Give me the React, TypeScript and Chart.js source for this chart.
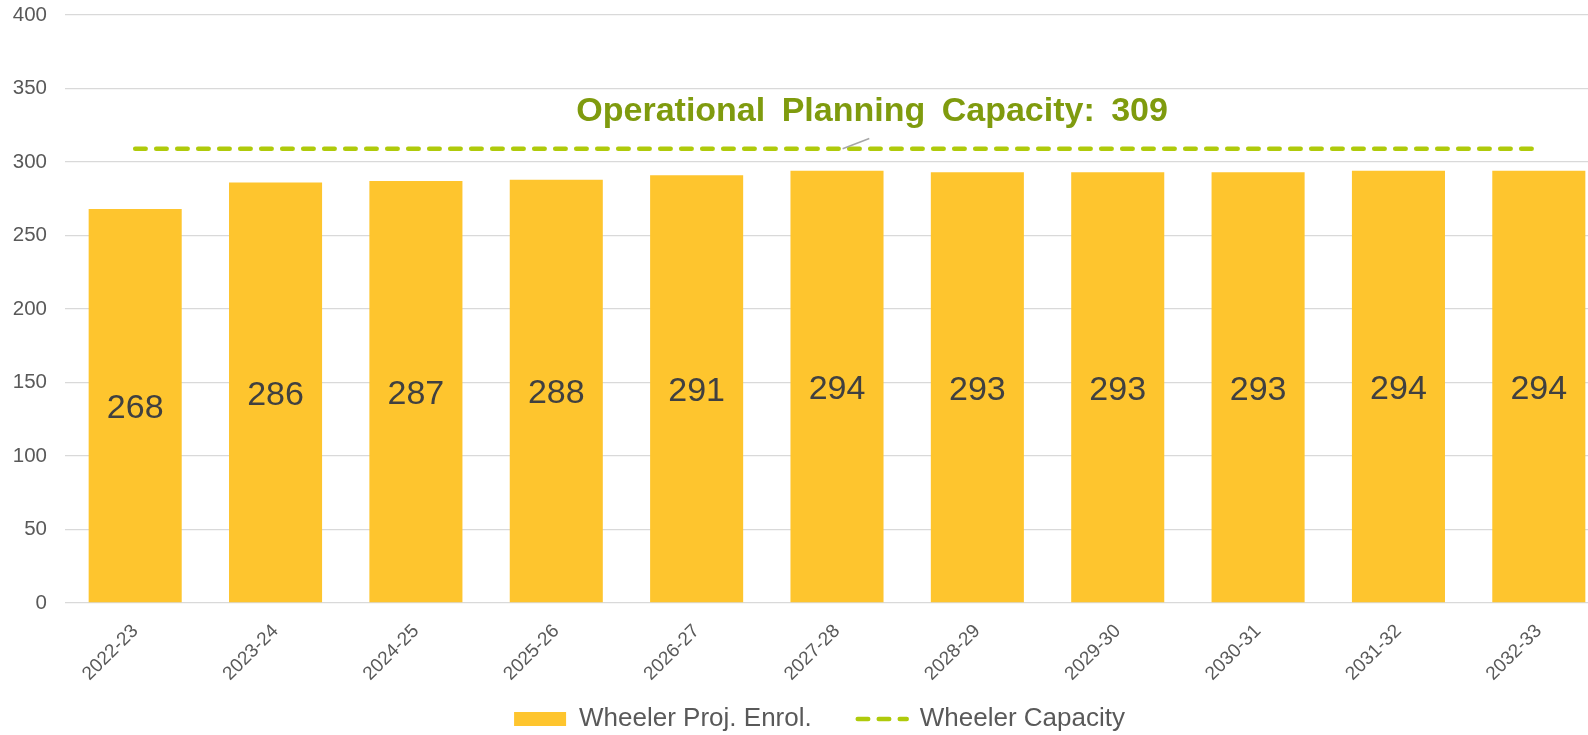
import React, { useEffect, useRef } from "react";
import { Chart, registerables } from "chart.js";

Chart.register(...registerables);

const CATEGORIES = ["2022-23", "2023-24", "2024-25", "2025-26", "2026-27", "2027-28", "2028-29", "2029-30", "2030-31", "2031-32", "2032-33"];
const ENROLMENT = [268, 286, 287, 288, 291, 294, 293, 293, 293, 294, 294];
const CAPACITY = [309, 309, 309, 309, 309, 309, 309, 309, 309, 309, 309];
const SERIES_NAMES = ["Wheeler Proj. Enrol.", "Wheeler Capacity"];
const ANNOTATION_PREFIX = "Operational Planning Capacity: ";
// annotation anchor in data space (category index, value)
const ANNOT_TEXT_AT = [5.25, 334];
const LEADER_FROM = [5.23, 316];
const LEADER_TO = [5.04, 309];

const FONT = "'Liberation Sans', Arial, sans-serif";
const BAR_COLOR = "#fec52e";
const LINE_COLOR = "#afca0b";
const ANNOT_COLOR = "#7f9b0e";
const TICK_COLOR = "#595959";
const GRID_COLOR = "#d9d9d9";
const LEGEND_SHIFT = [9, -25];

const barLabels = {
  id: "barLabels",
  afterDatasetsDraw(chart: any) {
    const ctx = chart.ctx;
    const meta = chart.getDatasetMeta(0);
    ctx.save();
    ctx.font = `34px ${FONT}`;
    ctx.fillStyle = "#404040";
    ctx.textAlign = "center";
    ctx.textBaseline = "middle";
    meta.data.forEach((el: any, i: number) => {
      const v = chart.data.datasets[0].data[i];
      ctx.fillText(String(v), el.x, (el.y + el.base) / 2 + 3);
    });
    ctx.restore();
  },
};

const annotation = {
  id: "capAnnotation",
  afterDatasetsDraw(chart: any) {
    const ctx = chart.ctx;
    const xs = chart.scales.x;
    const ys = chart.scales.y;
    ctx.save();
    ctx.strokeStyle = "#a6a6a6";
    ctx.lineWidth = 1.5;
    ctx.beginPath();
    ctx.moveTo(xs.getPixelForValue(LEADER_FROM[0]), ys.getPixelForValue(LEADER_FROM[1]));
    ctx.lineTo(xs.getPixelForValue(LEADER_TO[0]), ys.getPixelForValue(LEADER_TO[1]));
    ctx.stroke();
    const text = ANNOTATION_PREFIX + CAPACITY[0];
    const words = text.split(" ");
    ctx.font = `bold 34px ${FONT}`;
    ctx.fillStyle = ANNOT_COLOR;
    ctx.textBaseline = "middle";
    ctx.textAlign = "left";
    const gap = ctx.measureText(" ").width + 7;
    const widths = words.map((w) => ctx.measureText(w).width);
    const total = widths.reduce((a, b) => a + b, 0) + gap * (words.length - 1);
    let x = xs.getPixelForValue(ANNOT_TEXT_AT[0]) - total / 2;
    const y = ys.getPixelForValue(ANNOT_TEXT_AT[1]);
    words.forEach((w, i) => {
      ctx.fillText(w, x, y);
      x += widths[i] + gap;
    });
    ctx.restore();
  },
};

const legendShift = {
  id: "legendShift",
  afterLayout(chart: any) {
    const lg = chart.legend;
    if (!lg) return;
    lg.left += LEGEND_SHIFT[0];
    lg.right += LEGEND_SHIFT[0];
    lg.top += LEGEND_SHIFT[1];
    lg.bottom += LEGEND_SHIFT[1];
  },
};

export default function App() {
  const ref = useRef<HTMLCanvasElement>(null);
  useEffect(() => {
    if (!ref.current) return;
    const chart = new Chart(ref.current, {
      type: "bar",
      data: {
        labels: CATEGORIES,
        datasets: [
          {
            type: "bar",
            label: SERIES_NAMES[0],
            data: ENROLMENT,
            backgroundColor: BAR_COLOR,
            borderWidth: 0,
            categoryPercentage: 1,
            barPercentage: 0.663,
          } as any,
          {
            type: "line",
            label: SERIES_NAMES[1],
            data: CAPACITY,
            borderColor: LINE_COLOR,
            backgroundColor: LINE_COLOR,
            borderWidth: 4.5,
            borderDash: [10.5, 10.5],
            borderCapStyle: "round",
            pointRadius: 0,
            pointHoverRadius: 0,
            fill: false,
          } as any,
        ],
      },
      options: {
        responsive: false,
        animation: false,
        devicePixelRatio: 1,
        layout: { padding: { left: 12, right: 19, top: 15, bottom: -32 } },
        plugins: {
          tooltip: { enabled: false },
          legend: {
            position: "bottom",
            labels: {
              font: { family: FONT, size: 26 },
              color: TICK_COLOR,
              usePointStyle: true,
              pointStyleWidth: 52,
              boxHeight: 14,
              padding: 43,
              generateLabels(chart: any) {
                return chart.data.datasets.map((ds: any, i: number) => ({
                  text: ds.label,
                  datasetIndex: i,
                  fillStyle: ds.type === "bar" ? BAR_COLOR : "rgba(0,0,0,0)",
                  strokeStyle: ds.type === "bar" ? BAR_COLOR : LINE_COLOR,
                  lineWidth: ds.type === "bar" ? 0 : 4.5,
                  lineDash: ds.type === "bar" ? [] : [10.5, 10.5],
                  lineDashOffset: ds.type === "bar" ? 0 : -3,
                  lineCap: ds.type === "bar" ? "butt" : "round",
                  pointStyle: ds.type === "bar" ? "rect" : "line",
                  fontColor: TICK_COLOR,
                  hidden: false,
                }));
              },
            },
          },
        },
        scales: {
          x: {
            grid: { display: false, drawTicks: false },
            border: { display: false },
            ticks: {
              autoSkip: false,
              minRotation: 45,
              maxRotation: 45,
              font: { family: FONT, size: 19 },
              color: TICK_COLOR,
              padding: 17,
            },
            afterFit(scale: any) {
              scale.height = 85;
              scale.paddingLeft = 0;
              scale.paddingRight = 0;
            },
          },
          y: {
            min: 0,
            max: 400,
            ticks: {
              stepSize: 50,
              font: { family: FONT, size: 20.5 },
              color: TICK_COLOR,
              padding: 18,
            },
            grid: { color: GRID_COLOR, lineWidth: 1.3, drawTicks: false },
            border: { display: false },
            afterFit(scale: any) {
              scale.width = 53;
              scale.paddingTop = 0;
              scale.paddingBottom = 0;
            },
          },
        },
      },
      plugins: [barLabels, annotation, legendShift],
    });
    return () => chart.destroy();
  }, []);
  return (
    <div style={{ position: "fixed", left: 0, top: 0, width: 1588, height: 735, overflow: "hidden", background: "#fff" }}>
      <canvas ref={ref} width={1628} height={735} style={{ display: "block" }} />
    </div>
  );
}
